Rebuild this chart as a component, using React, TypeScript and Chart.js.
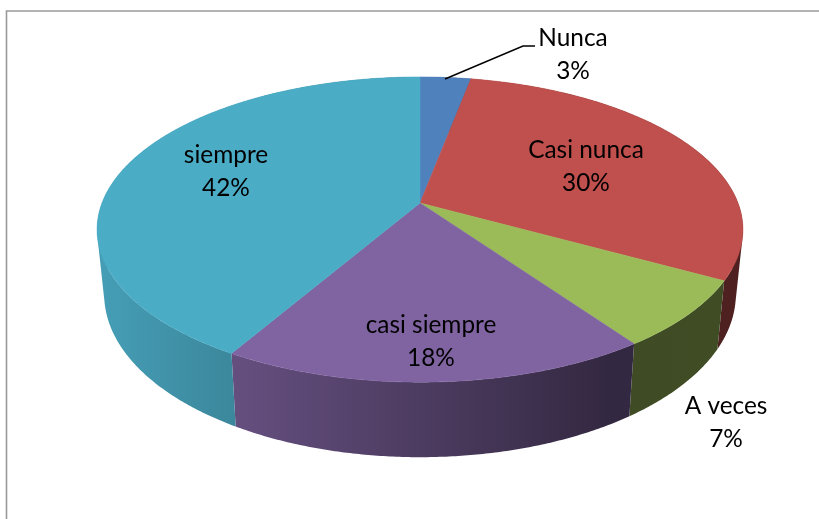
import React, { useEffect, useRef } from "react";
import { Chart, registerables } from "chart.js";

Chart.register(...registerables);

const categories = ["Nunca", "Casi nunca", "A veces", "casi siempre", "siempre"];
const shares = [3, 30, 7.2, 18.2, 41.6];
const faceColors = ["#4f81bd", "#c0504d", "#9bbb59", "#8064a2", "#4bacc6"];
// centre of each two-line label on the canvas: [x, first line y]
const labelPlacement: [number, number][] = [
  [573, 38], [586, 150.5], [726, 406], [431, 325.5], [226, 155.5],
];

const LINE_GAP = 33;
const FONT = '24.4px Lato, "Open Sans", sans-serif';

const apexX = 420, apexY = 203;
const A = 318, B = 148, P = -0.174;

function rim(a: number): [number, number] {
  const x = Math.cos(a), y = Math.sin(a);
  const w = 1 + P * y;
  return [apexX + (A * x) / w, apexY + (B * y) / w];
}
function lowerRim(a: number): [number, number] {
  const [X, Y] = rim(a);
  return [apexX + 0.978 * (X - apexX), 49.4 + 1.067 * Y];
}
const shadeStops: [number, number][] = [[100, 0.92], [240, 0.78], [420, 0.6], [610, 0.4], [800, 0.41]];
function shaded(hex: string, s: number) {
  const n = parseInt(hex.slice(1), 16);
  const r = Math.round(((n >> 16) & 255) * s), g = Math.round(((n >> 8) & 255) * s), b = Math.round((n & 255) * s);
  return `rgb(${r},${g},${b})`;
}

const piePlugin = {
  id: "pie3d",
  beforeDraw(chart: any) {
    const c = chart.ctx;
    c.save();
    c.fillStyle = "#ffffff";
    c.fillRect(0, 0, chart.width, chart.height);
    c.strokeStyle = "#9a9a9a";
    c.lineWidth = 1.6;
    c.beginPath();
    c.moveTo(6.5, 519);
    c.lineTo(6.5, 11);
    c.lineTo(819, 11);
    c.stroke();
    c.restore();
  },
  beforeDatasetDraw(chart: any) {
    const c = chart.ctx;
    const arcs = chart.getDatasetMeta(0).data;
    c.save();
    c.lineJoin = "round";
    // side walls: one path per slice made of equally oriented quads, so they merge without seams
    arcs.forEach((arc: any, i: number) => {
      const start = arc.startAngle, end = arc.endAngle;
      const grad = c.createLinearGradient(100, 0, 800, 0);
      shadeStops.forEach(([x, s]) => grad.addColorStop((x - 100) / 700, shaded(faceColors[i], s)));
      const n = Math.max(8, Math.ceil((end - start) * 120));
      c.fillStyle = grad;
      c.beginPath();
      for (let k = 0; k < n; k++) {
        const a0 = start + ((end - start) * k) / n;
        const a1 = start + ((end - start) * (k + 1)) / n;
        let quad = [rim(a0), rim(a1), lowerRim(a1), lowerRim(a0)];
        let area = 0;
        quad.forEach((p, j) => {
          const q = quad[(j + 1) % 4];
          area += p[0] * q[1] - q[0] * p[1];
        });
        if (area < 0) quad = quad.reverse();
        quad.forEach((p, j) => (j === 0 ? c.moveTo(p[0], p[1]) : c.lineTo(p[0], p[1])));
        c.closePath();
      }
      c.fill("nonzero");
    });
    // top faces
    arcs.forEach((arc: any, i: number) => {
      const n = Math.max(8, Math.ceil((arc.endAngle - arc.startAngle) * 80));
      c.fillStyle = faceColors[i];
      c.strokeStyle = faceColors[i];
      c.lineWidth = 0.5;
      c.beginPath();
      c.moveTo(apexX, apexY);
      for (let k = 0; k <= n; k++) {
        const p = rim(arc.startAngle + ((arc.endAngle - arc.startAngle) * k) / n);
        c.lineTo(p[0], p[1]);
      }
      c.closePath();
      c.fill();
      c.stroke();
    });
    c.restore();
    return false;
  },
  afterDatasetsDraw(chart: any) {
    const c = chart.ctx;
    c.save();
    c.strokeStyle = "#000000";
    c.lineWidth = 1.5;
    c.beginPath();
    c.moveTo(445, 79);
    c.lineTo(523, 46);
    c.lineTo(535, 46);
    c.stroke();
    c.fillStyle = "#000000";
    c.font = FONT;
    c.textAlign = "center";
    c.textBaseline = "middle";
    categories.forEach((name, i) => {
      const [x, y] = labelPlacement[i];
      c.fillText(name, x, y);
      c.fillText(`${Math.round(shares[i])}%`, x, y + LINE_GAP);
    });
    c.restore();
  },
};

export default function App() {
  const ref = useRef<HTMLCanvasElement>(null);
  useEffect(() => {
    const chart = new Chart(ref.current as HTMLCanvasElement, {
      type: "pie",
      data: {
        labels: categories,
        datasets: [{ data: shares, backgroundColor: faceColors, borderWidth: 0 }],
      },
      options: {
        responsive: false,
        animation: false,
        plugins: { legend: { display: false }, tooltip: { enabled: false } },
      },
      plugins: [piePlugin],
    } as any);
    return () => chart.destroy();
  }, []);
  return (
    <div style={{ position: "absolute", left: 0, top: 0, width: 819, height: 519 }}>
      <canvas ref={ref} width={819} height={519} style={{ display: "block" }} />
    </div>
  );
}
